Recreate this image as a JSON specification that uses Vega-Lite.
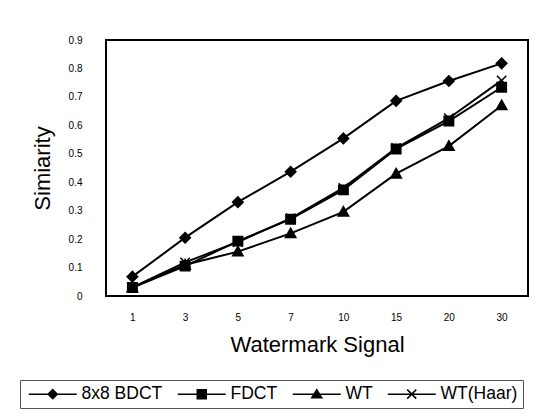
{
  "$schema": "https://vega.github.io/schema/vega-lite/v6.json",
  "autosize": "none",
  "width": 422,
  "height": 256,
  "padding": {"left": 106, "top": 40, "right": 14, "bottom": 120},
  "background": "white",
  "config": {
    "font": "Liberation Sans",
    "view": {"stroke": "black", "strokeWidth": 2},
    "axis": {"grid": false, "domain": false, "ticks": false, "tickSize": 0, "labelColor": "black", "titleColor": "black", "labelFont": "Liberation Sans", "titleFont": "Liberation Sans", "titleFontWeight": "normal"}
  },
  "data": {
    "values": [
      {"series": "8x8 BDCT", "signal": 1, "sim": 0.068},
      {"series": "8x8 BDCT", "signal": 3, "sim": 0.205},
      {"series": "8x8 BDCT", "signal": 5, "sim": 0.33},
      {"series": "8x8 BDCT", "signal": 7, "sim": 0.437},
      {"series": "8x8 BDCT", "signal": 10, "sim": 0.554},
      {"series": "8x8 BDCT", "signal": 15, "sim": 0.686},
      {"series": "8x8 BDCT", "signal": 20, "sim": 0.756},
      {"series": "8x8 BDCT", "signal": 30, "sim": 0.818},
      {"series": "FDCT", "signal": 1, "sim": 0.03},
      {"series": "FDCT", "signal": 3, "sim": 0.105},
      {"series": "FDCT", "signal": 5, "sim": 0.193},
      {"series": "FDCT", "signal": 7, "sim": 0.27},
      {"series": "FDCT", "signal": 10, "sim": 0.373},
      {"series": "FDCT", "signal": 15, "sim": 0.517},
      {"series": "FDCT", "signal": 20, "sim": 0.615},
      {"series": "FDCT", "signal": 30, "sim": 0.734},
      {"series": "WT", "signal": 1, "sim": 0.03},
      {"series": "WT", "signal": 3, "sim": 0.11},
      {"series": "WT", "signal": 5, "sim": 0.156},
      {"series": "WT", "signal": 7, "sim": 0.22},
      {"series": "WT", "signal": 10, "sim": 0.296},
      {"series": "WT", "signal": 15, "sim": 0.43},
      {"series": "WT", "signal": 20, "sim": 0.527},
      {"series": "WT", "signal": 30, "sim": 0.67},
      {"series": "WT(Haar)", "signal": 1, "sim": 0.03},
      {"series": "WT(Haar)", "signal": 3, "sim": 0.118},
      {"series": "WT(Haar)", "signal": 5, "sim": 0.19},
      {"series": "WT(Haar)", "signal": 7, "sim": 0.273},
      {"series": "WT(Haar)", "signal": 10, "sim": 0.38},
      {"series": "WT(Haar)", "signal": 15, "sim": 0.52},
      {"series": "WT(Haar)", "signal": 20, "sim": 0.625},
      {"series": "WT(Haar)", "signal": 30, "sim": 0.758}
    ]
  },
  "encoding": {
    "x": {
      "field": "signal", "type": "ordinal",
      "scale": {"type": "point", "padding": 0.5},
      "axis": {"title": "Watermark Signal", "labelAngle": 0, "labelFontSize": 10, "labelPadding": 16, "titleFontSize": 22, "titlePadding": 12}
    },
    "y": {
      "field": "sim", "type": "quantitative",
      "scale": {"domain": [0, 0.9], "nice": false, "zero": true},
      "axis": {"title": "Simiarity", "values": [0, 0.1, 0.2, 0.3, 0.4, 0.5, 0.6, 0.7, 0.8, 0.9], "format": ".1~f", "labelFontSize": 10, "labelPadding": 24, "titleFontSize": 22, "titlePadding": 14}
    }
  },
  "resolve": {"scale": {"shape": "independent"}, "legend": {"shape": "independent"}},
  "layer": [
    {
      "mark": {"type": "line", "color": "black", "strokeWidth": 2},
      "encoding": {"detail": {"field": "series"}}
    },
    {
      "mark": {"type": "point", "filled": true, "fill": "black", "stroke": "black", "strokeWidth": 1.5, "size": 110, "opacity": 1},
      "encoding": {
        "shape": {
          "field": "series", "type": "nominal",
          "scale": {
            "domain": ["8x8 BDCT", "FDCT", "WT", "WT(Haar)"],
            "range": ["M-1,0L0,-1L1,0L0,1Z", "M-0.9,-0.9H0.9V0.9H-0.9Z", "M0,-1L1,0.8H-1Z", "M-0.9,-0.9L0.9,0.9M0.9,-0.9L-0.9,0.9"]
          },
          "legend": null
        }
      }
    },
    {
      "mark": {"type": "point", "filled": true, "fill": "black", "stroke": "black", "strokeWidth": 1.5, "size": 100, "opacity": 0},
      "encoding": {
        "shape": {
          "field": "series", "type": "nominal",
          "scale": {
            "domain": ["8x8 BDCT", "FDCT", "WT", "WT(Haar)"],
            "range": ["M-1,0H8.6M2.9,0L3.8,-0.9L4.7,0L3.8,0.9Z", "M-1,0H8.6M2.9,-0.9H4.7V0.9H2.9Z", "M-1,0H8.6M3.8,-0.9L4.8,0.7H2.8Z", "M-1,0H8.6M2.9,-0.9L4.7,0.9M4.7,-0.9L2.9,0.9"]
          },
          "legend": {
            "title": null,
            "orient": "none",
            "legendX": -86,
            "legendY": 340,
            "direction": "horizontal",
            "columns": 4,
            "labelFont": "Liberation Sans",
            "labelFontSize": 17.5,
            "labelColor": "black",
            "labelOffset": 39,
            "labelLimit": 200,
            "columnPadding": 11,
            "symbolSize": 100,
            "padding": 5,
            "strokeColor": "#555555",
            "encode": {
              "symbols": {
                "fill": {"value": "black"},
                "stroke": {"value": "black"},
                "strokeWidth": {"value": 1.5},
                "opacity": {"value": 1}
              }
            }
          }
        }
      }
    }
  ]
}
